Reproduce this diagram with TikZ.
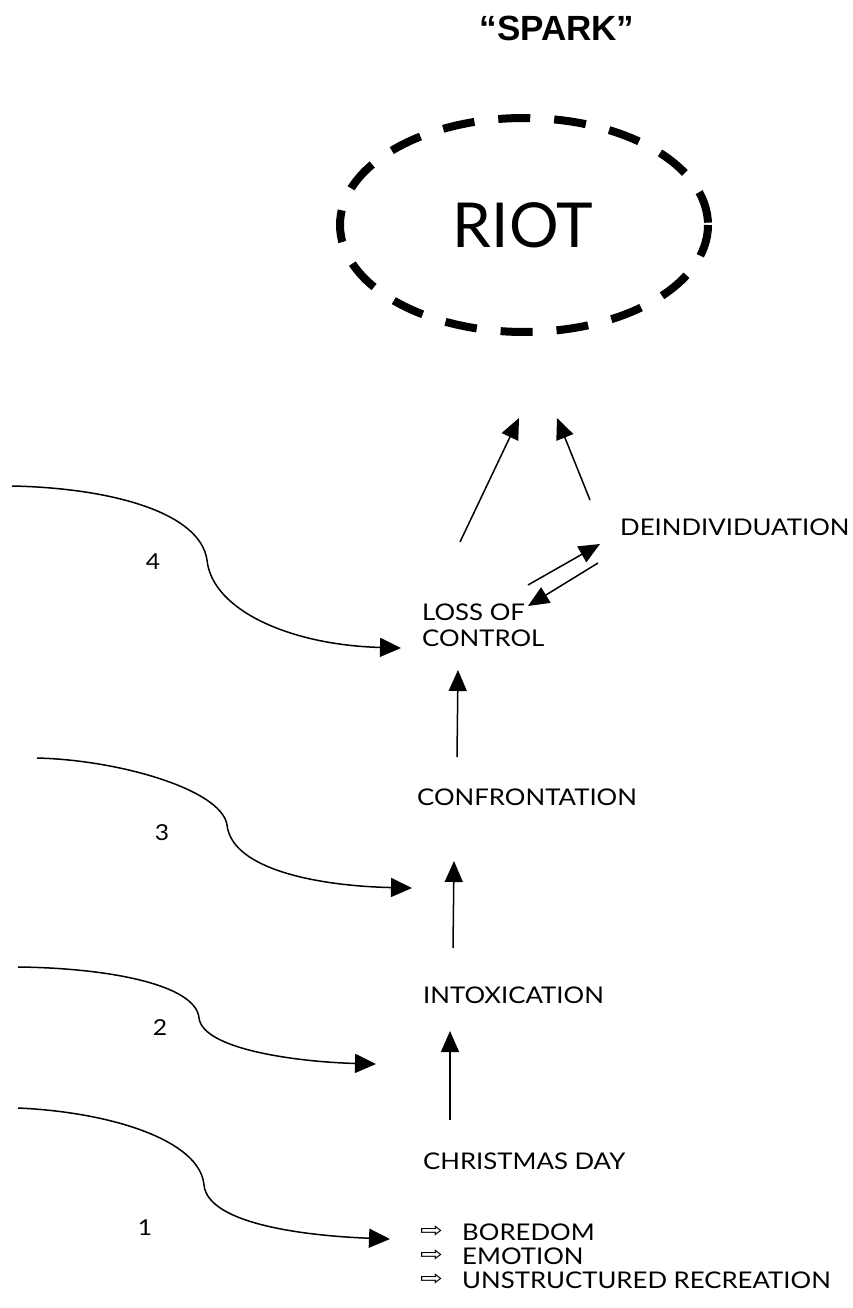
\documentclass[tikz,border=0pt]{standalone}
\usepackage{fontspec}
\setmainfont{Lato}
\newfontfamily\sparkfont{Liberation Sans}
\newfontfamily\symfont[FakeStretch=1.3]{DejaVu Sans}
\newfontfamily\bodyfont[FakeStretch=1.12]{Lato}
\usetikzlibrary{arrows.meta}
\begin{document}
\begin{tikzpicture}[x=1pt,y=-1pt,
  lbl/.style={inner sep=0pt, anchor=west, font=\bodyfont\fontsize{23}{25}\selectfont},
  num/.style={inner sep=0pt, font=\bodyfont\fontsize{22}{24}\selectfont},
  bul/.style={inner sep=0pt, anchor=west, font=\symfont\fontsize{21}{22}\selectfont},
  arr/.style={line width=1.5pt, -{Triangle[length=21pt,width=18pt]}},
  flow/.style={line width=1.5pt, -{Triangle[length=21pt,width=19pt]}},
  riotring/.style={line width=8pt, dash pattern=on 32pt off 24pt}]
\useasboundingbox (0,0) rectangle (852,1308);

% title
\node[inner sep=0pt, font=\sparkfont\bfseries\fontsize{35}{40}\selectfont] (spark) at (557,28) {“SPARK”};

% riot
\draw[riotring] (524,225) ellipse [x radius=184, y radius=107];
\node[inner sep=0pt, font=\fontsize{62}{70}\selectfont] (riot) at (523,225) {RIOT};

% stage labels
\node[lbl] (deind) at (620,527) {DEINDIVIDUATION};
\node[lbl] (loss) at (422,612) {LOSS OF};
\node[lbl] (control) at (422,638) {CONTROL};
\node[lbl] (confr) at (417,797) {CONFRONTATION};
\node[lbl] (intox) at (423,995) {INTOXICATION};
\node[lbl] (xmas) at (423,1161) {CHRISTMAS DAY};

% list
\node[bul] (b1) at (420,1232) {⇨};
\node[bul] (b2) at (420,1256) {⇨};
\node[bul] (b3) at (420,1280) {⇨};
\node[lbl] (bore) at (462,1232) {BOREDOM};
\node[lbl] (emo) at (462,1256) {EMOTION};
\node[lbl] (unstr) at (462,1280) {UNSTRUCTURED RECREATION};

% numbers
\node[num] (n4) at (153,562) {4};
\node[num] (n3) at (162,833) {3};
\node[num] (n2) at (160,1028) {2};
\node[num] (n1) at (145,1228) {1};

% arrow end points
\coordinate (lossup) at (460,542);
\coordinate (riotL) at (519,418);
\coordinate (deindup) at (590,500);
\coordinate (riotR) at (557,418);
\coordinate (l2dA) at (528,585);
\coordinate (l2dB) at (600,544);
\coordinate (d2lA) at (598,563);
\coordinate (d2lB) at (528,606);
\coordinate (confTop) at (457,757);
\coordinate (ctrlBot) at (458,670);
\coordinate (intTop) at (453,948);
\coordinate (confBot) at (454,861);
\coordinate (xmasTop) at (450,1120);
\coordinate (intBot) at (450,1031);

\draw[arr] (lossup) -- (riotL);
\draw[arr] (deindup) -- (riotR);
\draw[arr] (l2dA) -- (l2dB);
\draw[arr] (d2lA) -- (d2lB);
\draw[arr] (confTop) -- (ctrlBot);
\draw[arr] (intTop) -- (confBot);
\draw[arr] (xmasTop) -- (intBot);

% curved influences
\coordinate (s4) at (12,486);   \coordinate (e4) at (401,648);
\coordinate (s3) at (37,758);   \coordinate (e3) at (412,888);
\coordinate (s2) at (18,967);   \coordinate (e2) at (376,1064);
\coordinate (s1) at (18,1108);  \coordinate (e1) at (390,1239);

\draw[flow] (s4) .. controls (110,488) and (200,512) .. (207,560)
            .. controls (212,610) and (290,645) .. (e4);
\draw[flow] (s3) .. controls (120,760) and (222,790) .. (227,825)
            .. controls (232,870) and (320,886) .. (e3);
\draw[flow] (s2) .. controls (110,968) and (196,985) .. (199,1018)
            .. controls (203,1050) and (300,1062) .. (e2);
\draw[flow] (s1) .. controls (110,1112) and (200,1140) .. (204,1185)
            .. controls (208,1225) and (310,1236) .. (e1);
\end{tikzpicture}
\end{document}
